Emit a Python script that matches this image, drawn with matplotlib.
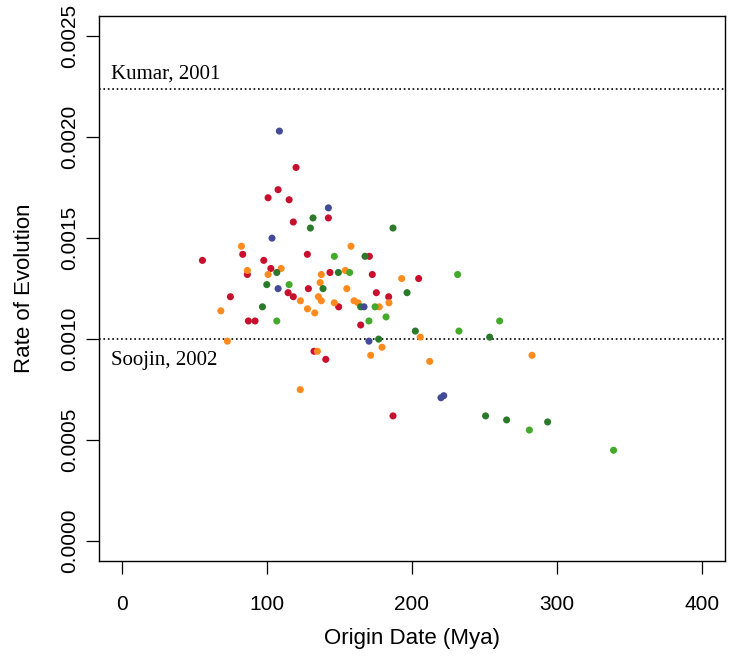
import matplotlib
matplotlib.use("Agg")
import matplotlib.pyplot as plt

# ---- data ----
red_x = [120.0, 107.6, 100.7, 115.2, 118.1, 83.2, 127.8, 55.4, 97.7, 102.6, 86.4, 74.7,
         114.5, 118.1, 128.5, 87.1, 91.7, 142.3, 170.6, 143.4, 172.6, 204.6, 175.4,
         183.9, 149.4, 164.6, 132.4, 140.5, 186.9]
red_y = [0.00185, 0.00174, 0.00170, 0.00169, 0.00158, 0.00142, 0.00142, 0.00139, 0.00139,
         0.00135, 0.00132, 0.00121, 0.00123, 0.00121, 0.00125, 0.00109, 0.00109, 0.00160,
         0.00141, 0.00133, 0.00132, 0.00130, 0.00123, 0.00121, 0.00116, 0.00107, 0.00094,
         0.00090, 0.00062]

orange_x = [82.3, 86.4, 100.7, 109.7, 123.0, 127.9, 68.1, 72.6, 122.9, 157.9, 137.4, 154.0,
            192.9, 136.6, 155.0, 135.4, 132.9, 137.4, 146.4, 160.0, 162.8, 177.4, 184.1,
            205.7, 134.7, 179.3, 171.5, 212.2, 282.8]
orange_y = [0.00146, 0.00134, 0.00132, 0.00135, 0.00119, 0.00115, 0.00114, 0.00099, 0.00075,
            0.00146, 0.00132, 0.00134, 0.00130, 0.00128, 0.00125, 0.00121, 0.00113, 0.00119,
            0.00118, 0.00119, 0.00118, 0.00116, 0.00118, 0.00101, 0.00094, 0.00096, 0.00092,
            0.00089, 0.00092]

dkgreen_x = [129.9, 131.7, 186.9, 167.6, 149.2, 106.7, 99.8, 96.8, 138.6, 196.6, 164.6,
             202.3, 253.6, 177.0, 250.8, 265.3, 293.6]
dkgreen_y = [0.00155, 0.00160, 0.00155, 0.00141, 0.00133, 0.00133, 0.00127, 0.00116, 0.00125,
             0.00123, 0.00116, 0.00104, 0.00101, 0.00100, 0.00062, 0.00060, 0.00059]

ltgreen_x = [115.2, 106.7, 146.4, 157.0, 231.5, 174.5, 170.3, 182.1, 232.4, 260.5, 281.0, 339.1]
ltgreen_y = [0.00127, 0.00109, 0.00141, 0.00133, 0.00132, 0.00116, 0.00109, 0.00111, 0.00104,
             0.00109, 0.00055, 0.00045]

blue_x = [108.5, 103.4, 107.6, 142.3, 166.9, 170.3, 220.0, 221.9]
blue_y = [0.00203, 0.00150, 0.00125, 0.00165, 0.00116, 0.00099, 0.00071, 0.00072]

ref_values = [0.00224, 0.00100]
ref_labels = ["Kumar, 2001", "Soojin, 2002"]

x_ticks = [0, 100, 200, 300, 400]
y_ticks = [0.0, 0.0005, 0.0010, 0.0015, 0.0020, 0.0025]
y_ticklabels = ["0.0000", "0.0005", "0.0010", "0.0015", "0.0020", "0.0025"]

# ---- figure ----
sans = ["Liberation Sans", "DejaVu Sans"]
serif = ["Liberation Serif", "DejaVu Serif"]

fig = plt.figure(figsize=(7.31, 6.60), dpi=100)
ax = fig.add_axes([0.1354, 0.1495, 0.8564, 0.8263])

series = [
    (red_x, red_y, "#C8102E"),
    (orange_x, orange_y, "#FF8A1E"),
    (dkgreen_x, dkgreen_y, "#2A7A2A"),
    (ltgreen_x, ltgreen_y, "#44AA2C"),
    (blue_x, blue_y, "#434A96"),
]
for xs, ys, c in series:
    ax.scatter(xs, ys, s=26, c=c, edgecolors="none", zorder=3)

for v in ref_values:
    ax.axhline(v, color="black", linestyle=":", linewidth=1.2, zorder=2)

ax.text(-8, 0.00229, ref_labels[0], family=serif, fontsize=15, ha="left", va="baseline")
ax.text(-8, 0.000870, ref_labels[1], family=serif, fontsize=15, ha="left", va="baseline")

ax.set_xlim(-16, 416)
ax.set_ylim(-0.0001, 0.0026)
ax.set_xticks(x_ticks)
ax.set_xticklabels([str(t) for t in x_ticks], family=sans, fontsize=15)
ax.set_yticks(y_ticks)
ax.set_yticklabels(y_ticklabels, family=sans, fontsize=15, rotation=90, va="center")

ax.tick_params(axis="both", direction="out", length=9.5, width=0.9, color="black")
ax.tick_params(axis="x", pad=15)
ax.tick_params(axis="y", pad=5)
for sp in ax.spines.values():
    sp.set_linewidth(1.0)
    sp.set_color("black")

ax.set_xlabel("Origin Date (Mya)", family=sans, fontsize=16, labelpad=10)
ax.set_ylabel("Rate of Evolution", family=sans, fontsize=16, labelpad=18)

fig.savefig("out.png", dpi=100, facecolor="white")
